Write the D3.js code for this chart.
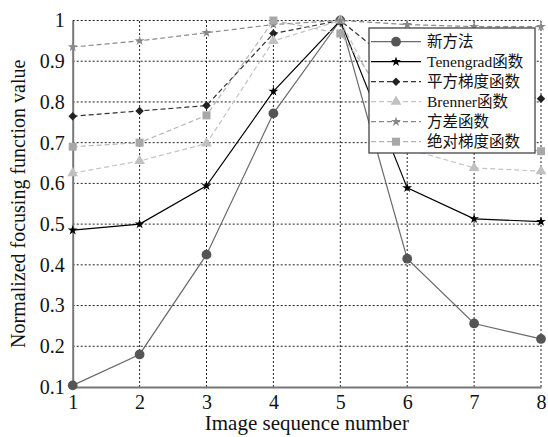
<!DOCTYPE html>
<html>
<head>
<meta charset="utf-8">
<script src="https://cdn.jsdelivr.net/npm/d3@7"></script>
<style>
  html, body { margin: 0; padding: 0; background: #fff; }
  svg { display: block; }
  svg text { font-family: "Liberation Serif", "Noto Sans CJK SC", serif; }
</style>
</head>
<body>
<div id="chart"></div>
<script>
// дані
const imageNumbers = [1, 2, 3, 4, 5, 6, 7, 8];
const newMethod    = [0.104, 0.180, 0.425, 0.772, 1.000, 0.415, 0.256, 0.218];
const tenengrad    = [0.485, 0.500, 0.594, 0.826, 1.000, 0.589, 0.513, 0.506];
const squareGrad   = [0.765, 0.778, 0.791, 0.968, 1.000, 0.868, 0.840, 0.808];
const brenner      = [0.625, 0.655, 0.698, 0.950, 1.000, 0.685, 0.638, 0.630];
const variance     = [0.935, 0.950, 0.970, 0.990, 1.000, 0.990, 0.985, 0.985];
const absGrad      = [0.690, 0.700, 0.767, 1.000, 0.968, 0.740, 0.700, 0.679];
const seriesNames  = ["新方法", "Tenengrad函数", "平方梯度函数", "Brenner函数", "方差函数", "绝对梯度函数"];
const yTicks = [0.1, 0.2, 0.3, 0.4, 0.5, 0.6, 0.7, 0.8, 0.9, 1];

const w = 548, h = 437;
const margin = {left: 72.7, right: 7, top: 20.5, bottom: 50};
const serif = "'Liberation Serif', 'Times New Roman', serif";

const svg = d3.select("#chart").append("svg")
    .attr("width", w).attr("height", h)
    .attr("font-family", serif);

const x = d3.scaleLinear().domain([1, 8]).range([margin.left, w - margin.right]);
const y = d3.scaleLinear().domain([0.1, 1]).range([387, margin.top]);

// стилі серій
const styles = [
    {values: newMethod,  stroke: "#6a6a6a", dash: null,  marker: "circle",   fill: "#555", size: 75, rot: 0},
    {values: tenengrad,  stroke: "#000",    dash: null,  marker: "star",     fill: "#000", size: 30, rot: 0},
    {values: squareGrad, stroke: "#333",    dash: "5,3", marker: "square",   fill: "#222", size: 36, rot: 45},
    {values: brenner,    stroke: "#c4c4c4", dash: "5,3", marker: "triangle", fill: "#c0c0c0", size: 50, rot: 0},
    {values: variance,   stroke: "#8a8a8a", dash: "5,3", marker: "star",     fill: "#888", size: 30, rot: 0},
    {values: absGrad,    stroke: "#b4b4b4", dash: "5,3", marker: "square",   fill: "#a8a8a8", size: 64, rot: 0}
];
const symbolType = {
    circle: d3.symbolCircle, star: d3.symbolStar,
    triangle: d3.symbolTriangle, square: d3.symbolSquare
};

// сітка
const grid = svg.append("g").attr("stroke", "#222").attr("stroke-width", 1).attr("stroke-dasharray", "2,2");
grid.selectAll("line.gy").data(yTicks.slice(1)).join("line")
    .attr("x1", x(1)).attr("x2", x(8))
    .attr("y1", d => y(d)).attr("y2", d => y(d));
grid.selectAll("line.gx").data(imageNumbers.slice(1)).join("line")
    .attr("y1", y(0.1)).attr("y2", y(1))
    .attr("x1", d => x(d)).attr("x2", d => x(d));

// осі
const xAxis = svg.append("g").attr("transform", `translate(0,${y(0.1)})`)
    .call(d3.axisBottom(x).tickValues(imageNumbers).tickSize(0).tickPadding(8).tickFormat(d3.format("d")));
const yAxis = svg.append("g").attr("transform", `translate(${x(1)},0)`)
    .call(d3.axisLeft(y).tickValues(yTicks).tickSize(0).tickPadding(8).tickFormat(d => String(d)));
[xAxis, yAxis].forEach(a => {
    a.attr("font-family", serif).attr("font-size", 20);
    a.select(".domain").attr("stroke", "#777").attr("stroke-width", 2);
    a.selectAll("text").attr("fill", "#111");
});

// лінії та маркери
const line = d3.line().x((d, i) => x(imageNumbers[i])).y(d => y(d));
const plot = svg.append("g");
styles.forEach(s => {
    plot.append("path")
        .attr("d", line(s.values))
        .attr("fill", "none")
        .attr("stroke", s.stroke)
        .attr("stroke-width", 1.2)
        .attr("stroke-dasharray", s.dash);
    plot.append("g").selectAll("path")
        .data(s.values).join("path")
        .attr("transform", (d, i) => `translate(${x(imageNumbers[i])},${y(d)}) rotate(${s.rot})`)
        .attr("d", d3.symbol().type(symbolType[s.marker]).size(s.size))
        .attr("fill", s.fill);
});

// легенда
const leg = svg.append("g").attr("transform", "translate(369,28)");
leg.append("rect").attr("width", 166).attr("height", 125)
    .attr("fill", "#fff").attr("stroke", "#444").attr("stroke-width", 1.3);
styles.forEach((s, i) => {
    const ry = 13.7 + i * 20;
    leg.append("line").attr("x1", 2).attr("x2", 52).attr("y1", ry).attr("y2", ry)
        .attr("stroke", s.stroke).attr("stroke-width", 1.2).attr("stroke-dasharray", s.dash);
    leg.append("path").attr("transform", `translate(27,${ry}) rotate(${s.rot})`)
        .attr("d", d3.symbol().type(symbolType[s.marker]).size(s.size)).attr("fill", s.fill);
    leg.append("text").attr("x", 58).attr("y", ry).attr("dy", "0.35em")
        .attr("font-size", 15.5).attr("fill", "#111")
        .text(seriesNames[i]);
});

// підписи осей
svg.append("text").attr("x", (x(1) + x(8)) / 2).attr("y", 430)
    .attr("text-anchor", "middle").attr("font-size", 21).attr("fill", "#111")
    .text("Image sequence number");
svg.append("text")
    .attr("transform", `translate(25,${(y(0.1) + y(1)) / 2}) rotate(-90)`)
    .attr("text-anchor", "middle").attr("font-size", 20).attr("fill", "#111")
    .text("Normalized focusing function value");
</script>
</body>
</html>
